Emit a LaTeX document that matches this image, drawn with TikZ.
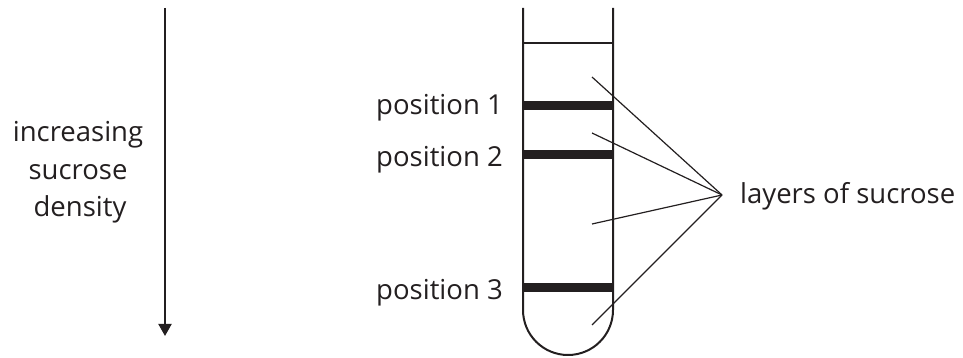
\documentclass[tikz,border=0pt]{standalone}
\usepackage{fontspec}
\setmainfont{Open Sans}
\usetikzlibrary{arrows.meta}
\definecolor{ink}{HTML}{231F20}
\tikzset{
  lbl/.style={inner sep=0pt, text=ink, font=\fontsize{27.5}{33}\selectfont},
  wall/.style={draw=ink, line width=2pt},
  band/.style={draw=ink, line width=9pt},
  leader/.style={draw=ink, line width=1.2pt},
}
\begin{document}
\begin{tikzpicture}[x=1pt,y=1pt]
\useasboundingbox (0,0) rectangle (963,358);
% arrow
\coordinate (atop) at (165,350);
\coordinate (abot) at (165,22);
\draw[wall, -{Triangle[width=13pt,length=12pt]}] (atop) -- (abot);
\node[lbl, anchor=base] (t1) at (78,216) {increasing};
\node[lbl, anchor=base] (t2) at (78,178) {sucrose};
\node[lbl, anchor=base] (t3) at (80,141) {density};
% tube
\draw[wall] (523,350) -- (523,48) arc (180:360:45) -- (613,350);
\draw[wall, line width=1.6pt] (523,315) -- (613,315);
\draw[band] (523,252) -- (613,252);
\draw[band] (523,203) -- (613,203);
\draw[band] (523,70) -- (613,70);
\node[lbl, anchor=base east] (p1) at (503,243) {position 1};
\node[lbl, anchor=base east] (p2) at (503,191) {position 2};
\node[lbl, anchor=base east] (p3) at (503,58) {position 3};
% leaders
\coordinate (hub) at (722,163);
\coordinate (l1) at (592,281);
\coordinate (l2) at (592,225);
\coordinate (l3) at (592,134);
\coordinate (l4) at (592,33);
\draw[leader] (l1) -- (hub);
\draw[leader] (l2) -- (hub);
\draw[leader] (l3) -- (hub);
\draw[leader] (l4) -- (hub);
\node[lbl, anchor=base west] (lay) at (740,154) {layers of sucrose};
\end{tikzpicture}
\end{document}
